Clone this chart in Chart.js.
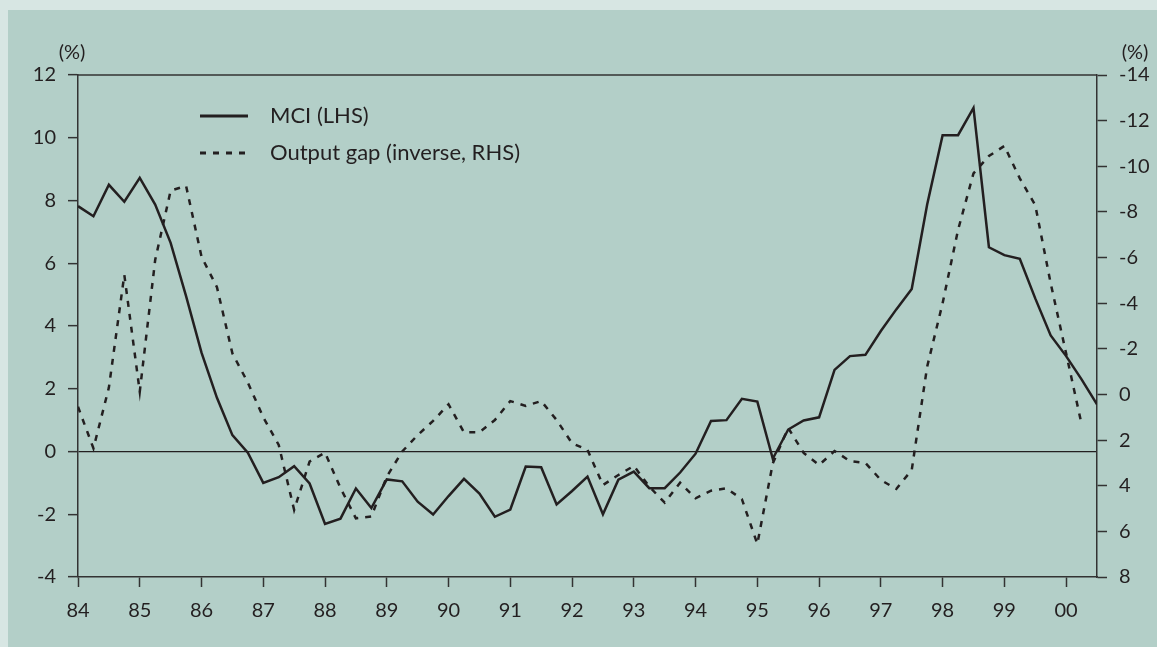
<!DOCTYPE html>
<html>
<head>
<meta charset="utf-8">
<script src="https://cdn.jsdelivr.net/npm/chart.js@4/dist/chart.umd.min.js"></script>
<style>
  html, body { margin: 0; padding: 0; background: #d7e6e3; }
  #panel { position: absolute; left: 8px; top: 10px; right: 0; bottom: 0; background: #b3cfc8; }
  #chart { position: absolute; left: 0; top: 0; }
</style>
</head>
<body>
<div id="panel"></div>
<canvas id="chart" width="1157" height="647"></canvas>
<script>
// Quarterly data, 1984Q1 onwards
const startYear = 1984;
const mciLabel = "MCI (LHS)";
const gapLabel = "Output gap (inverse, RHS)";

const mci = [
  7.82, 7.50, 8.50, 7.96,   // 84
  8.72, 7.87, 6.65, 4.95,   // 85
  3.15, 1.71, 0.52, -0.04,  // 86
  -1.00, -0.82, -0.47, -1.02, // 87
  -2.31, -2.14, -1.18, -1.80, // 88
  -0.89, -0.95, -1.60, -2.01, // 89
  -1.42, -0.87, -1.34, -2.08, // 90
  -1.85, -0.48, -0.50, -1.69, // 91
  -1.26, -0.80, -2.00, -0.90, // 92
  -0.64, -1.17, -1.17, -0.67, // 93
  -0.07, 0.97, 1.00, 1.68,  // 94
  1.59, -0.23, 0.70, 0.99,  // 95
  1.09, 2.60, 3.04, 3.08,   // 96
  3.84, 4.53, 5.18, 7.87,   // 97
  10.08, 10.08, 10.95, 6.51, // 98
  6.26, 6.14, 4.88, 3.70,   // 99
  3.04, 2.30, 1.50          // 00
];

const outputGap = [
  0.54, 2.36, -0.3, -5.24,
  -0.12, -5.9, -8.93, -9.14,
  -6.04, -4.7, -1.8, -0.52,
  1.0, 2.21, 5.06, 2.94,
  2.55, 4.1, 5.43, 5.35,
  3.6, 2.5, 1.78, 1.16,
  0.43, 1.66, 1.66, 1.12,
  0.29, 0.5, 0.29, 1.12,
  2.14, 2.43, 3.97, 3.53,
  3.13, 4.04, 4.74, 3.87,
  4.55, 4.22, 4.11, 4.59,
  6.55, 3.02, 1.47, 2.56,
  3.09, 2.48, 2.92, 3.0,
  3.75, 4.14, 3.31, -1.22,
  -4.0, -7.21, -9.69, -10.45,
  -10.89, -9.47, -8.3, -4.87,
  -1.8, 1.3
];

const ink = "#231f20";
const axisColor = "#333333";
const font = { family: "Lato, 'Open Sans', sans-serif", size: 20 };
const legendSize = 22;

function toPoints(values) {
  return values.map((v, i) => ({ x: startYear + i / 4, y: v }));
}

// frame top line, legend, (%) labels
const decor = {
  id: "decor",
  afterDatasetsDraw(chart) {
    const { ctx, chartArea: a } = chart;
    ctx.save();
    ctx.strokeStyle = axisColor;
    ctx.lineWidth = 1.5;
    ctx.beginPath();
    ctx.moveTo(a.left, a.top);
    ctx.lineTo(a.right, a.top);
    ctx.stroke();

    ctx.font = font.size + "px " + font.family;
    ctx.fillStyle = ink;
    ctx.textBaseline = "middle";
    ctx.textAlign = "center";
    ctx.fillText("(%)", a.left - 6, a.top - 22);
    ctx.fillText("(%)", a.right + 38, a.top - 22);

    ctx.font = legendSize + "px " + font.family;
    ctx.textAlign = "left";
    chart.data.datasets.forEach((ds, i) => {
      const y = a.top + 41 + i * 37;
      const x0 = a.left + 122;
      ctx.strokeStyle = ds.borderColor;
      ctx.lineWidth = ds.borderWidth + 0.5;
      ctx.setLineDash(ds.borderDash || []);
      ctx.beginPath();
      ctx.moveTo(x0, y);
      ctx.lineTo(x0 + 48, y);
      ctx.stroke();
      ctx.setLineDash([]);
      ctx.fillText(ds.label, x0 + 70, y);
    });
    ctx.restore();
  }
};

new Chart(document.getElementById("chart"), {
  type: "line",
  data: {
    datasets: [
      {
        label: mciLabel,
        data: toPoints(mci),
        yAxisID: "y",
        borderColor: ink,
        borderWidth: 2.5,
        pointRadius: 0,
        tension: 0
      },
      {
        label: gapLabel,
        data: toPoints(outputGap),
        yAxisID: "y1",
        borderColor: ink,
        borderWidth: 2.5,
        borderDash: [6, 7],
        pointRadius: 0,
        tension: 0
      }
    ]
  },
  options: {
    responsive: false,
    animation: false,
    layout: { padding: { top: 75, left: 0, right: 0, bottom: 0 } },
    plugins: {
      legend: { display: false },
      tooltip: { enabled: false }
    },
    scales: {
      x: {
        type: "linear",
        min: 1984,
        max: 2000.5,
        afterFit: (s) => { s.height = 70; },
        border: { color: axisColor, width: 1.5 },
        grid: { drawOnChartArea: false, tickLength: 10, tickColor: axisColor, tickWidth: 1.5 },
        ticks: {
          stepSize: 1,
          includeBounds: false,
          maxRotation: 0,
          padding: 12,
          color: ink,
          font: font,
          callback: (v) => String(v % 100).padStart(2, "0")
        }
      },
      y: {
        position: "left",
        min: -4,
        max: 12,
        afterFit: (s) => { s.width = 78; },
        border: { color: axisColor, width: 1.5 },
        grid: {
          drawOnChartArea: true,
          color: (c) => (c.tick && c.tick.value === 0 ? ink : "rgba(0,0,0,0)"),
          lineWidth: 1.3,
          tickLength: 10,
          tickColor: axisColor,
          tickWidth: 1.5
        },
        ticks: { stepSize: 2, padding: 12, color: ink, font: font }
      },
      y1: {
        position: "right",
        min: -14,
        max: 8,
        reverse: true,
        afterFit: (s) => { s.width = 60; },
        border: { color: axisColor, width: 1.5 },
        grid: { drawOnChartArea: false, tickLength: 10, tickColor: axisColor, tickWidth: 1.5 },
        ticks: { stepSize: 2, padding: 12, color: ink, font: font }
      }
    }
  },
  plugins: [decor]
});
</script>
</body>
</html>
